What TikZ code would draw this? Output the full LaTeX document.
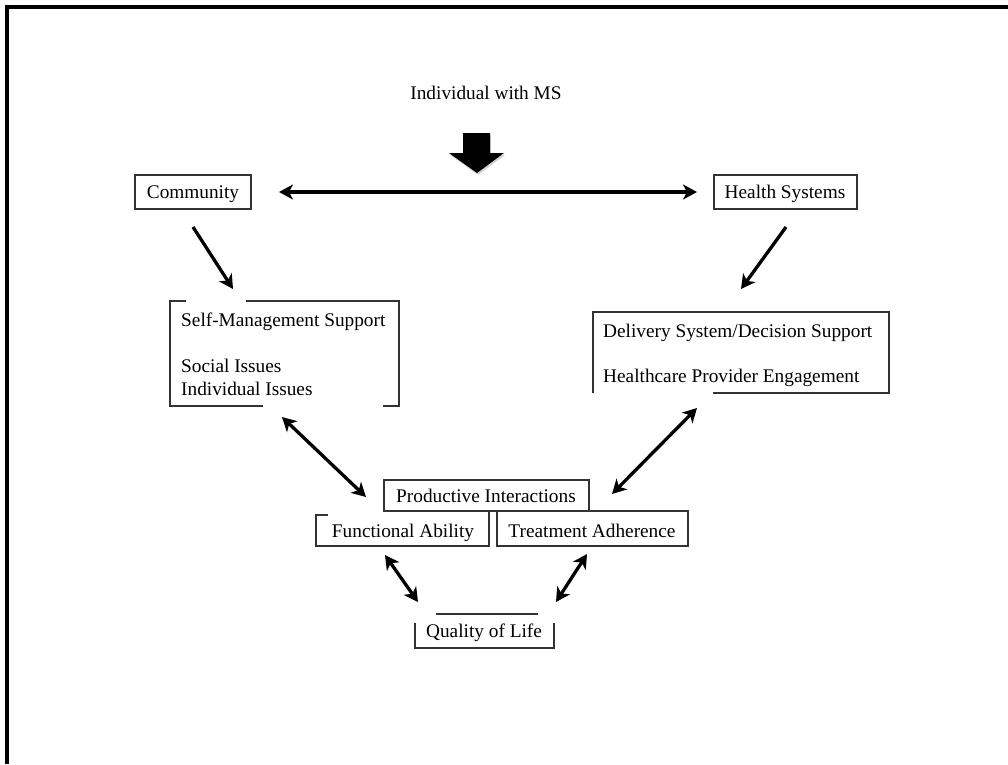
\documentclass[tikz,border=0pt]{standalone}
\usepackage{fontspec}
\setmainfont{Liberation Serif}
\usetikzlibrary{arrows.meta,shadows}
\begin{document}
\begin{tikzpicture}[x=1pt,y=-1pt,
  lbl/.style={inner sep=0pt,font=\fontsize{19.3}{22}\selectfont,text=black},
  boxline/.style={draw=black!80,line width=1.1pt},
  dbl/.style={line width=3.3pt,{Stealth[length=14pt,width=15pt,inset=4pt]}-{Stealth[length=14pt,width=15pt,inset=4pt]}},
  sgl/.style={line width=3.3pt,-{Stealth[length=14pt,width=15pt,inset=4pt]}}]
\useasboundingbox (0,0) rectangle (1008,764);
\draw[line width=3.5pt] (7,764) -- (7,7) -- (1008,7);

% texts
\node[lbl,anchor=base] (ind) at (486,99) {Individual with MS};
\node[lbl,anchor=base] (com) at (193,198) {Community};
\node[lbl,anchor=base] (hs) at (785,198) {Health Systems};
\node[lbl,anchor=base west] (sms) at (181,326) {Self-Management Support};
\node[lbl,anchor=base west] (soc) at (181,372) {Social Issues};
\node[lbl,anchor=base west] (iis) at (181,395) {Individual Issues};
\node[lbl,anchor=base west] (dss) at (603,337) {Delivery System/Decision Support};
\node[lbl,anchor=base west] (hpe) at (603,382) {Healthcare Provider Engagement};
\node[lbl,anchor=base] (pi) at (486,502) {Productive Interactions};
\node[lbl,anchor=base] (fa) at (403,537) {Functional Ability};
\node[lbl,anchor=base] (ta) at (592,537) {Treatment Adherence};
\node[lbl,anchor=base] (qol) at (484,637) {Quality of Life};

% block arrow
\fill[black,drop shadow={opacity=0.35,shadow xshift=1pt,shadow yshift=-2pt}]
  (463,133) -- (490,133) -- (490,153) -- (504,153) -- (477,173) -- (449,153) -- (463,153) -- cycle;

% boxes
\draw[boxline] (135,175) rectangle (251,209);
\draw[boxline] (714,175) rectangle (857,209);
\draw[boxline] (186,301) -- (170,301) -- (170,406) -- (263,406);
\draw[boxline] (246,301) -- (399,301) -- (399,406) -- (383,406);
\draw[boxline] (713,393) -- (889,393) -- (889,312) -- (593,312) -- (593,393);
\draw[boxline] (384,480) rectangle (589,511);
\draw[boxline] (328,515) -- (316,515) -- (316,546) -- (489,546) -- (489,511);
\draw[boxline] (497,511) -- (497,546) -- (688,546) -- (688,511) -- (589,511);
\draw[boxline] (436,614) -- (538,614);
\draw[boxline] (415,623) -- (415,648) -- (554,648) -- (554,623);

% connectors
\coordinate (c1) at (279,192); \coordinate (c2) at (697,192);
\coordinate (c3) at (193,227); \coordinate (c4) at (233,289);
\coordinate (c5) at (786,227); \coordinate (c6) at (741,289);
\coordinate (c7) at (282,417); \coordinate (c8) at (366,497);
\coordinate (c9) at (697,408); \coordinate (c10) at (612,494);
\coordinate (c11) at (385,555); \coordinate (c12) at (418,602);
\coordinate (c13) at (587,554); \coordinate (c14) at (556,602);
\draw[dbl] (c1) -- (c2);
\draw[sgl] (c3) -- (c4);
\draw[sgl] (c5) -- (c6);
\draw[dbl] (c7) -- (c8);
\draw[dbl] (c9) -- (c10);
\draw[dbl] (c11) -- (c12);
\draw[dbl] (c13) -- (c14);
\end{tikzpicture}
\end{document}
